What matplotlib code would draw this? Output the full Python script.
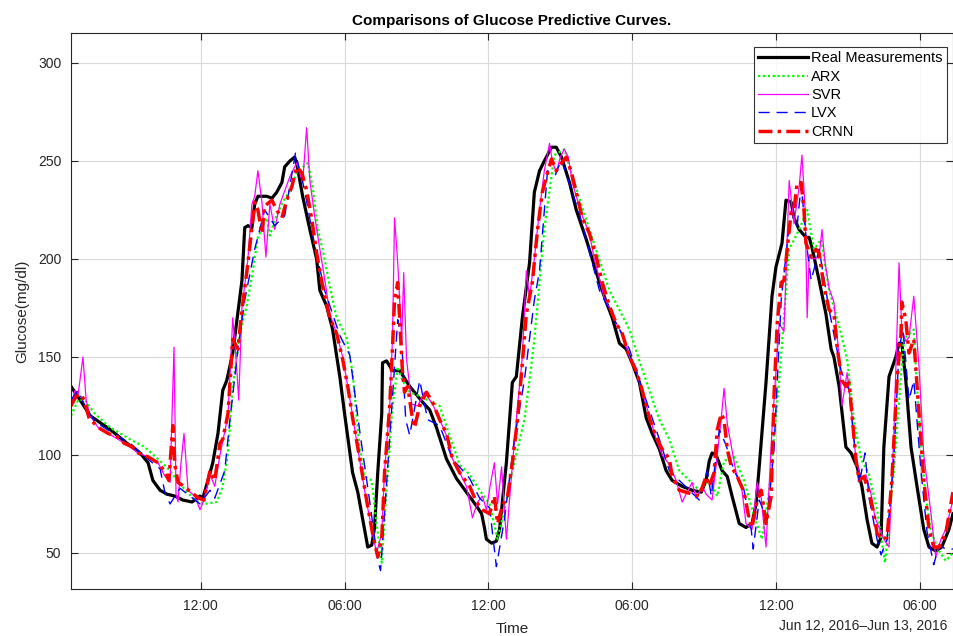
import numpy as np
import matplotlib
matplotlib.use("Agg")
import matplotlib.pyplot as plt
import matplotlib.dates as mdates

plt.rcParams['font.family'] = ['Liberation Sans', 'DejaVu Sans']

# minutes after 2016-06-12 00:00, glucose in mg/dl
real_min = [395, 418, 443, 493, 535, 568, 588, 600, 618, 635, 655, 675, 698, 718, 725, 738, 750, 763, 775, 785,
            800, 823, 830, 838, 848, 855, 863, 885, 898, 910, 923, 930, 943, 955, 960, 975, 993, 1010, 1018, 1035,
            1050, 1068, 1080, 1100, 1113, 1130, 1138, 1148, 1155, 1163, 1173, 1175, 1185, 1200, 1218, 1243, 1275,
            1293, 1310, 1335, 1360, 1385, 1410, 1423, 1430, 1435, 1448, 1460, 1468, 1485, 1500, 1510, 1525, 1543,
            1555, 1568, 1580, 1598, 1610, 1623, 1643, 1660, 1685, 1700, 1718, 1735, 1750, 1768, 1785, 1800, 1818,
            1835, 1850, 1868, 1885, 1900, 1925, 1950, 1973, 1985, 1993, 2000, 2010, 2025, 2038, 2050, 2068, 2085,
            2100, 2110, 2118, 2135, 2150, 2160, 2175, 2185, 2198, 2205, 2218, 2235, 2243, 2250, 2268, 2285, 2298,
            2305, 2318, 2335, 2348, 2363, 2375, 2388, 2400, 2413, 2423, 2430, 2443, 2460, 2468, 2475, 2485, 2498,
            2513, 2530, 2543, 2560, 2575, 2593, 2603]
real_g = [135, 128, 120, 113, 106, 101, 96, 87, 82, 80, 79, 77, 76, 79, 78, 87, 96, 111, 133, 138,
          152, 189, 216, 217, 216, 228, 232, 232, 231, 234, 239, 247, 250, 252, 249, 232, 215, 200, 184, 176,
          164, 140, 121, 91, 81, 62, 53, 54, 63, 91, 121, 147, 148, 143, 143, 135, 127,
          123, 114, 98, 88, 81, 74, 70, 63, 57, 55, 56, 62, 96, 137, 140, 170, 198,
          234, 245, 250, 257, 257, 252, 239, 225, 210, 200, 188, 178, 170, 157, 154, 147, 137,
          119, 111, 103, 92, 87, 84, 82, 81, 87, 97, 101, 100, 92, 89, 79, 65, 63,
          65, 75, 94, 137, 181, 196, 208, 230, 229, 221, 215, 211, 211, 206, 189, 172, 154,
          150, 135, 104, 101, 94, 84, 67, 55, 53, 58, 104, 140, 150, 157, 157, 138, 104,
          84, 62, 53, 51, 53, 62, 70]

arx_min = [395, 413, 430, 455, 493, 543, 580, 618, 643, 668, 705, 730, 760, 775, 788, 800, 818, 835, 848, 863,
           885, 893, 905, 925, 943, 960, 988, 1000, 1013, 1025, 1043, 1060, 1085, 1100, 1118, 1130, 1148, 1160,
           1173, 1185, 1200, 1213, 1225, 1243, 1268, 1318, 1343, 1368, 1393, 1418, 1443, 1463, 1480, 1505, 1530,
           1543, 1555, 1580, 1605, 1630, 1655, 1693, 1743, 1793, 1818, 1843, 1868, 1893, 1918, 1943, 1968, 1993,
           2013, 2030, 2055, 2080, 2105, 2125, 2143, 2168, 2193, 2218, 2238, 2255, 2273, 2293, 2318, 2338, 2355,
           2373, 2393, 2413, 2433, 2455, 2480, 2505, 2518, 2533, 2548, 2568, 2585, 2603]
arx_g = [120, 128, 128, 121, 114, 108, 104, 97, 92, 85, 77, 75, 76, 84, 101, 135, 162, 176, 191, 211,
         221, 212, 220, 229, 235, 244, 249, 237, 215, 205, 186, 170, 160, 142, 103, 89, 87, 65,
         45, 82, 125, 145, 138, 132, 130, 125, 110, 95, 90, 82, 75, 57, 72, 96, 118,
         138, 159, 215, 253, 256, 239, 215, 184, 164, 148, 133, 118, 108, 92, 87, 82, 87,
         79, 97, 99, 87, 69, 57, 82, 138, 205, 215, 225, 205, 210, 184, 166, 149, 118,
         98, 90, 72, 45, 92, 159, 164, 118, 82, 61, 51, 46, 50]

svr_min = [395, 405, 413, 425, 433, 443, 463, 488, 513, 528, 550, 563, 588, 613, 628, 643, 653, 658, 663, 670,
           678, 688, 705, 718, 728, 743, 755, 768, 788, 800, 808, 815, 823, 838, 848, 855, 863, 873, 883, 893,
           905, 918, 943, 960, 975, 985, 993, 1005, 1018, 1030, 1043, 1060, 1075, 1088, 1100, 1118, 1135, 1150,
           1160, 1173, 1180, 1193, 1200, 1205, 1213, 1223, 1228, 1235, 1248, 1263, 1280, 1300, 1318, 1335, 1350,
           1368, 1385, 1400, 1413, 1425, 1435, 1445, 1455, 1463, 1473, 1485, 1498, 1513, 1525, 1535, 1543, 1555,
           1568, 1580, 1593, 1600, 1610, 1620, 1630, 1640, 1650, 1663, 1675, 1693, 1705, 1718, 1730, 1743, 1760,
           1775, 1793, 1810, 1825, 1843, 1860, 1875, 1893, 1910, 1925, 1935, 1950, 1960, 1975, 1985, 2000, 2013,
           2023, 2030, 2038, 2060, 2073, 2085, 2100, 2113, 2123, 2135, 2150, 2168, 2180, 2193, 2205, 2218, 2225,
           2233, 2238, 2243, 2255, 2268, 2275, 2283, 2293, 2305, 2318, 2325, 2338, 2350, 2360, 2373, 2385, 2398,
           2408, 2418, 2430, 2443, 2455, 2468, 2475, 2485, 2493, 2505, 2518, 2530, 2548, 2560, 2573, 2585, 2603]
svr_g = [125, 133, 131, 150, 128, 120, 114, 111, 108, 106, 103, 101, 99, 96, 90, 86, 155, 80, 76, 95,
         111, 82, 79, 72, 77, 90, 84, 100, 120, 170, 150, 128, 175, 200, 228, 232, 245, 229, 201, 228,
         215, 228, 242, 249, 239, 267, 240, 222, 205, 190, 172, 162, 150, 135, 120, 97, 76, 60,
         50, 60, 92, 125, 160, 221, 198, 159, 193, 149, 126, 125, 132, 126, 118, 110, 98,
         91, 84, 68, 76, 79, 72, 85, 96, 75, 94, 57, 90, 125, 150, 194, 180, 200,
         225, 245, 259, 250, 244, 252, 256, 252, 239, 230, 222, 213, 200, 190, 180, 175, 167,
         162, 150, 143, 132, 120, 108, 100, 95, 87, 76, 80, 86, 78, 84, 80, 77, 100,
         119, 134, 116, 91, 85, 65, 62, 86, 78, 53, 113, 167, 163, 240, 218, 237, 253,
         225, 170, 201, 200, 201, 215, 198, 185, 178, 150, 125, 142, 120, 98, 88, 90, 80,
         68, 63, 57, 53, 110, 198, 164, 158, 160, 181, 145, 100, 70, 48, 57, 62, 77]

lvx_min = [395, 413, 430, 455, 493, 543, 593, 618, 630, 643, 668, 693, 718, 743, 755, 780, 793, 813, 830, 855,
           880, 905, 930, 957, 980, 1005, 1030, 1068, 1093, 1118, 1143, 1163, 1170, 1180, 1198, 1213, 1223, 1233,
           1243, 1268, 1288, 1318, 1350, 1393, 1418, 1443, 1460, 1480, 1505, 1530, 1555, 1568, 1588, 1608, 1623,
           1643, 1668, 1718, 1743, 1768, 1793, 1818, 1843, 1868, 1893, 1943, 1968, 1988, 1998, 2018, 2035, 2055,
           2080, 2098, 2103, 2118, 2138, 2155, 2173, 2193, 2213, 2223, 2238, 2248, 2268, 2293, 2323, 2343, 2355,
           2368, 2383, 2393, 2413, 2423, 2438, 2455, 2468, 2478, 2493, 2505, 2523, 2538, 2555, 2568, 2585, 2603]
lvx_g = [128, 133, 125, 117, 112, 106, 97, 93, 81, 75, 83, 79, 75, 82, 78, 92, 118, 154, 179, 205,
         225, 217, 222, 254, 235, 207, 184, 161, 151, 112, 76, 46, 41, 70, 124, 169, 158, 118,
         110, 138, 118, 115, 98, 88, 78, 73, 43, 67, 108, 138, 179, 194, 245, 243, 251,
         238, 223, 184, 174, 164, 154, 138, 123, 108, 92, 82, 77, 92, 79, 113, 105, 92,
         82, 62, 52, 77, 67, 103, 179, 217, 217, 238, 205, 189, 205, 174, 143, 133, 108,
         85, 101, 78, 57, 49, 57, 98, 154, 164, 128, 138, 92, 61, 44, 54, 52, 52]

crnn_min = [395, 408, 420, 428, 440, 463, 488, 513, 528, 550, 563, 588, 613, 628, 640, 650, 655, 663, 678, 695,
            715, 728, 743, 755, 768, 775, 788, 800, 813, 823, 838, 855, 863, 873, 880, 898, 910, 923, 935, 948,
            960, 973, 985, 998, 1010, 1025, 1043, 1060, 1075, 1088, 1100, 1118, 1135, 1150, 1163, 1173, 1180,
            1193, 1200, 1205, 1213, 1218, 1225, 1230, 1238, 1248, 1255, 1268, 1285, 1300, 1318, 1335, 1350, 1368,
            1393, 1410, 1425, 1443, 1455, 1463, 1475, 1488, 1500, 1513, 1525, 1535, 1550, 1563, 1575, 1588, 1598,
            1610, 1623, 1635, 1648, 1660, 1675, 1693, 1710, 1725, 1743, 1760, 1775, 1793, 1810, 1825, 1843, 1860,
            1875, 1893, 1900, 1918, 1935, 1968, 1985, 1993, 2005, 2013, 2023, 2030, 2038, 2048, 2063, 2080, 2093,
            2100, 2113, 2123, 2135, 2148, 2155, 2163, 2173, 2180, 2188, 2198, 2205, 2213, 2223, 2230, 2235, 2248,
            2260, 2268, 2280, 2293, 2305, 2313, 2325, 2335, 2343, 2350, 2360, 2368, 2380, 2393, 2405, 2413, 2425,
            2438, 2450, 2463, 2473, 2475, 2485, 2493, 2505, 2518, 2530, 2543, 2555, 2568, 2585, 2603]
crnn_g = [125, 130, 131, 128, 119, 114, 111, 109, 106, 104, 101, 99, 96, 92, 87, 115, 95, 86, 84, 81,
          78, 77, 92, 87, 106, 108, 121, 159, 154, 174, 198, 229, 225, 213, 227, 230, 225, 221, 230, 237,
          247, 244, 235, 220, 203, 186, 170, 162, 149, 135, 119, 98, 77, 60, 48, 57, 91,
          125, 155, 179, 188, 169, 142, 132, 135, 121, 114, 125, 132, 127, 118, 111, 98, 91,
          84, 76, 72, 70, 79, 65, 74, 79, 96, 118, 147, 172, 188, 215, 234, 244, 251,
          245, 249, 252, 244, 234, 221, 213, 201, 188, 176, 167, 162, 150, 143, 133, 119, 109,
          103, 98, 89, 82, 81, 79, 89, 84, 91, 113, 121, 118, 103, 94, 89, 81, 67,
          63, 77, 82, 65, 79, 130, 167, 188, 189, 205, 224, 225, 239, 239, 225, 208, 201,
          205, 203, 186, 174, 172, 155, 138, 135, 137, 121, 98, 87, 89, 81, 70, 60, 57,
          58, 87, 138, 162, 178, 169, 152, 159, 121, 87, 62, 53, 53, 60, 81]

start = np.datetime64('2016-06-12T00:00')


def to_time(minutes):
    return start + np.array(minutes).astype('timedelta64[m]')


fig = plt.figure(figsize=(9.54, 6.36), dpi=100)
ax = fig.add_axes([0.0744, 0.0739, 0.9245, 0.8742])

ax.plot(to_time(real_min), real_g, color='black', lw=2.3, label='Real Measurements')
ax.plot(to_time(arx_min), arx_g, color='#00ff00', lw=1.6, ls=(0, (1, 1.2)), label='ARX')
ax.plot(to_time(svr_min), svr_g, color='#ff00ff', lw=0.9, label='SVR')
ax.plot(to_time(lvx_min), lvx_g, color='#0000ff', lw=1.0, ls=(0, (8, 5)), label='LVX')
ax.plot(to_time(crnn_min), crnn_g, color='#ff0000', lw=2.5, ls=(0, (4, 1.5, 1, 1.5)), label='CRNN')

ax.set_xlim(to_time([395])[0], to_time([2603])[0])
ax.set_ylim(31.6, 315.3)
ax.set_yticks([50, 100, 150, 200, 250, 300])
ax.xaxis.set_major_locator(mdates.HourLocator(byhour=[0, 6, 12, 18]))
ax.xaxis.set_major_formatter(mdates.DateFormatter('%I:%M'))

ax.grid(True, color='#d9d9d9', lw=0.8)
ax.set_axisbelow(True)
ax.tick_params(direction='in', length=5, top=True, right=True, labelsize=10,
               labelcolor='#262626', color='#262626', pad=7)
for s in ax.spines.values():
    s.set_color('#262626')
    s.set_linewidth(0.8)

ax.set_title('Comparisons of Glucose Predictive Curves.', fontsize=11, fontweight='bold', pad=6)
ax.set_ylabel('Glucose(mg/dl)', fontsize=11, color='#262626', labelpad=6)
ax.set_xlabel('Time', fontsize=11, color='#262626', labelpad=7)
fig.text(0.993, 0.016, 'Jun 12, 2016\u2013Jun 13, 2016', ha='right', va='center',
         fontsize=10, color='#262626')

leg = ax.legend(loc='upper right', bbox_to_anchor=(0.993, 0.975), fontsize=10.5, frameon=True,
                fancybox=False, edgecolor='black', handlelength=3.4, handletextpad=0.2,
                borderpad=0.3, labelspacing=0.3, borderaxespad=0)
leg.get_frame().set_linewidth(0.8)

fig.savefig('out.png', dpi=100)
